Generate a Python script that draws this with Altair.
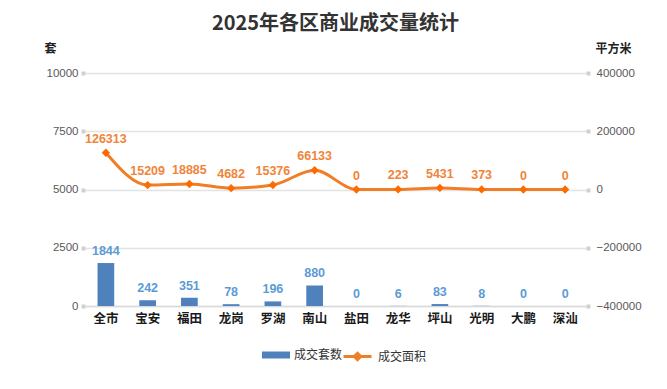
import altair as alt
import pandas as pd

districts = ["全市", "宝安", "福田", "龙岗", "罗湖", "南山", "盐田", "龙华", "坪山", "光明", "大鹏", "深汕"]
units = [1844, 242, 351, 78, 196, 880, 0, 6, 83, 8, 0, 0]
area = [126313, 15209, 18885, 4682, 15376, 66133, 0, 223, 5431, 373, 0, 0]
left_ticks = [0, 2500, 5000, 7500, 10000]
right_ticks = [-400000, -200000, 0, 200000, 400000]

df = pd.DataFrame({"区": districts, "套数": units, "面积": area})

CJK = "Noto Sans CJK SC"
NUM = "Liberation Sans"
BAR_C = "#4F81BD"
BAR_T = "#5B9BD5"
LINE_C = "#F07E26"
PT_C = "#FF6A00"
LBL_O = "#F0843A"

x = alt.X(
    "区:N", sort=districts, title=None,
    scale=alt.Scale(paddingInner=0.6, paddingOuter=0.3),
    axis=alt.Axis(labelAngle=0, labelFont=CJK, labelFontSize=12.5, labelFontWeight="bold",
                  labelColor="#1a1a1a", labelPadding=6, ticks=False,
                  domainColor="#D9D9D9", domainWidth=1.5),
)

y_left = alt.Y(
    "套数:Q", scale=alt.Scale(domain=[0, 10000], nice=False),
    axis=alt.Axis(values=left_ticks, format="d", grid=True, gridColor="#E3E3E3", gridWidth=1.5,
                  domain=False, tickColor="#D0D0D0", tickSize=4, tickWidth=4,
                  labelFont=NUM, labelFontSize=11.5, labelColor="#595959", labelPadding=3,
                  title="套", titleAngle=0, titleFont=CJK, titleFontSize=12,
                  titleFontWeight="bold", titleColor="#222", titleX=-35, titleY=-25,
                  titleAlign="center", titleBaseline="middle"),
)

y_right = alt.Y(
    "面积:Q", scale=alt.Scale(domain=[-400000, 400000], nice=False),
    axis=alt.Axis(values=right_ticks, format="d", grid=False, orient="right",
                  domain=False, tickColor="#D0D0D0", tickSize=4, tickWidth=4,
                  labelFont=NUM, labelFontSize=11.5, labelColor="#595959", labelPadding=6,
                  title="平方米", titleAngle=0, titleFont=CJK, titleFontSize=12,
                  titleFontWeight="bold", titleColor="#222", titleX=27, titleY=-25,
                  titleAlign="center", titleBaseline="middle"),
)

base = alt.Chart(df)

bars = base.mark_bar().transform_calculate(s1="'成交套数'").encode(
    x=x, y=y_left,
    fill=alt.Fill("s1:N",
                  scale=alt.Scale(domain=["成交套数"], range=[BAR_C]),
                  legend=alt.Legend(title=None, orient="none", legendX=184, legendY=275,
                                    direction="horizontal",
                                    symbolType="M-2,-0.5H2V0.5H-2Z", symbolSize=196,
                                    symbolStrokeWidth=0, labelFont=CJK, labelFontSize=12,
                                    labelColor="#333", labelOffset=11)),
)
bar_text = base.mark_text(baseline="bottom", dy=-5, font=NUM, fontSize=12.5,
                          fontWeight="bold", color=BAR_T).encode(
    x=x, y=y_left, text="套数:Q")

left = alt.layer(bars, bar_text)

line = base.mark_line(interpolate="monotone", strokeWidth=3).transform_calculate(
    s2="'成交面积'").encode(
    x=x, y=y_right,
    stroke=alt.Stroke("s2:N",
                      scale=alt.Scale(domain=["成交面积"], range=[LINE_C]),
                      legend=alt.Legend(title=None, orient="none", legendX=264, legendY=275,
                                        direction="horizontal",
                                        symbolType="M-2,0H2M0,-0.45L0.45,0L0,0.45L-0.45,0Z",
                                        symbolSize=196, symbolStrokeWidth=3,
                                        symbolFillColor=PT_C, labelFont=CJK,
                                        labelFontSize=12, labelColor="#333", labelOffset=12)),
)
points = base.mark_point(shape="diamond", filled=True, size=70, color=PT_C, opacity=1).encode(
    x=x, y=y_right)
line_text = base.mark_text(baseline="bottom", dy=-7, font=NUM, fontSize=12.5,
                           fontWeight="bold", color=LBL_O).encode(
    x=x, y=y_right, text="面积:Q")

right = alt.layer(line, points, line_text)

chart = alt.layer(left, right).resolve_scale(y="independent").properties(
    width=501, height=233,
    title=alt.TitleParams("2025年各区商业成交量统计", font=CJK, fontSize=20,
                          fontWeight="bold", color="#333", anchor="middle", offset=8),
    autosize=alt.AutoSizeParams(type="none"),
    padding={"left": 77, "top": 65, "right": 70, "bottom": 70},
).configure_view(stroke=None)

chart.save("out.html", embed_options={"renderer": "svg", "actions": False})
